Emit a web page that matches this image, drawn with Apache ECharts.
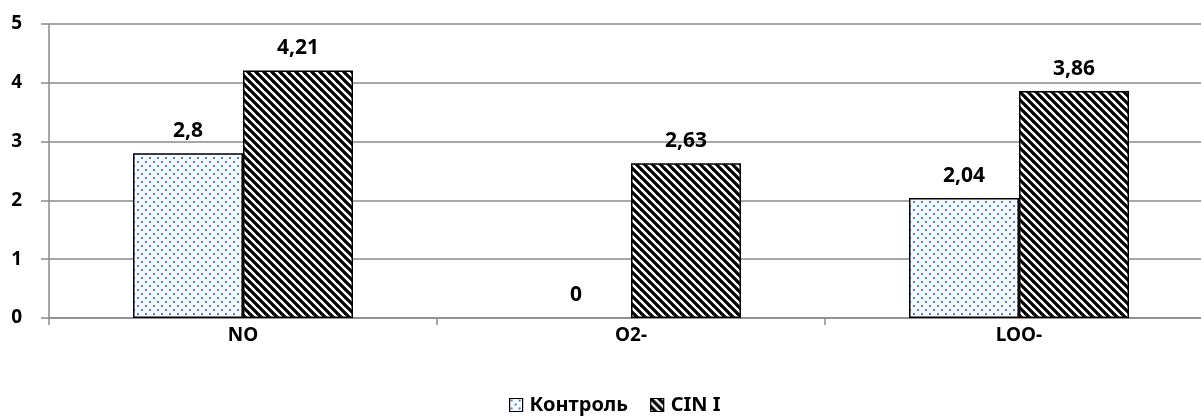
<!DOCTYPE html>
<html><head><meta charset="utf-8">
<script src="https://cdn.jsdelivr.net/npm/echarts@6/dist/echarts.min.js"></script>
<style>html,body{margin:0;padding:0;background:#fff}#c{width:1201px;height:419px}</style>
</head><body><div id="c"></div>
<script>
const categories = ['NO', 'O2-', 'LOO-'];
const seriesNames = ['Контроль', 'CIN I'];
const controlValues = [2.8, 0, 2.04];
const cinValues = [4.21, 2.63, 3.86];
const labelTexts = [['2,8', '0', '2,04'], ['4,21', '2,63', '3,86']];

function dotPattern() {
  const c = document.createElement('canvas'); c.width = 8; c.height = 8;
  const g = c.getContext('2d');
  g.fillStyle = '#f5f8fc'; g.fillRect(0, 0, 8, 8);
  g.fillStyle = '#4f80c8';
  g.fillRect(1, 1, 2, 2); g.fillRect(5, 5, 2, 2);
  return c;
}
function stripePattern() {
  const c = document.createElement('canvas'); c.width = 8; c.height = 8;
  const g = c.getContext('2d');
  g.fillStyle = '#fff'; g.fillRect(0, 0, 8, 8);
  g.strokeStyle = '#000'; g.lineWidth = 3.2;
  for (const o of [-8, 0, 8]) { g.beginPath(); g.moveTo(o - 2, -2); g.lineTo(o + 10, 10); g.stroke(); }
  return c;
}
const font = '"Noto Sans", "DejaVu Sans", sans-serif';
const chart = echarts.init(document.getElementById('c'));
function mkSeries(i, vals, pat) {
  return {
    name: seriesNames[i], type: 'bar', barGap: '0%', barCategoryGap: '43.3%',
    data: vals.map(v => v === 0 ? { value: v, itemStyle: { borderWidth: 0 } } : v),
    itemStyle: { color: { image: pat, repeat: 'repeat' }, borderColor: '#000', borderWidth: 1.5 },
    label: { show: true, position: 'top', distance: 12, color: '#000', fontWeight: 'bold', fontSize: 21, fontFamily: font,
      formatter: p => labelTexts[i][p.dataIndex] },
    emphasis: { disabled: true }
  };
}
chart.setOption({
  animation: false,
  grid: { left: 49, width: 1164, top: 24, bottom: 101, containLabel: false, outerBoundsMode: 'none' },
  legend: { top: 393, left: 507, icon: 'rect', itemWidth: 13, itemHeight: 13, itemGap: 22, padding: 2,
    itemStyle: { borderColor: '#000', borderWidth: 1.2 },
    textStyle: { fontFamily: font, fontWeight: 'bold', fontSize: 20, color: '#000', padding: [0, 0, 0, 2] } },
  xAxis: { type: 'category', data: categories,
    axisLine: { lineStyle: { color: '#8a8a8a', width: 1.5 } },
    axisTick: { show: true, length: 7, lineStyle: { color: '#8a8a8a', width: 1.5 } },
    axisLabel: { margin: 8, color: '#000', fontWeight: 'bold', fontSize: 19, fontFamily: font } },
  yAxis: { type: 'value', min: 0, max: 5, interval: 1,
    axisLine: { show: true, lineStyle: { color: '#8a8a8a', width: 1.5 } },
    axisTick: { show: true, length: 8, lineStyle: { color: '#8a8a8a', width: 1.5 } },
    splitLine: { lineStyle: { color: '#8a8a8a', width: 1.5 } },
    axisLabel: { margin: 27, color: '#000', fontWeight: 'bold', fontSize: 19, fontFamily: font } },
  series: [mkSeries(0, controlValues, dotPattern()), mkSeries(1, cinValues, stripePattern())]
});
</script></body></html>
